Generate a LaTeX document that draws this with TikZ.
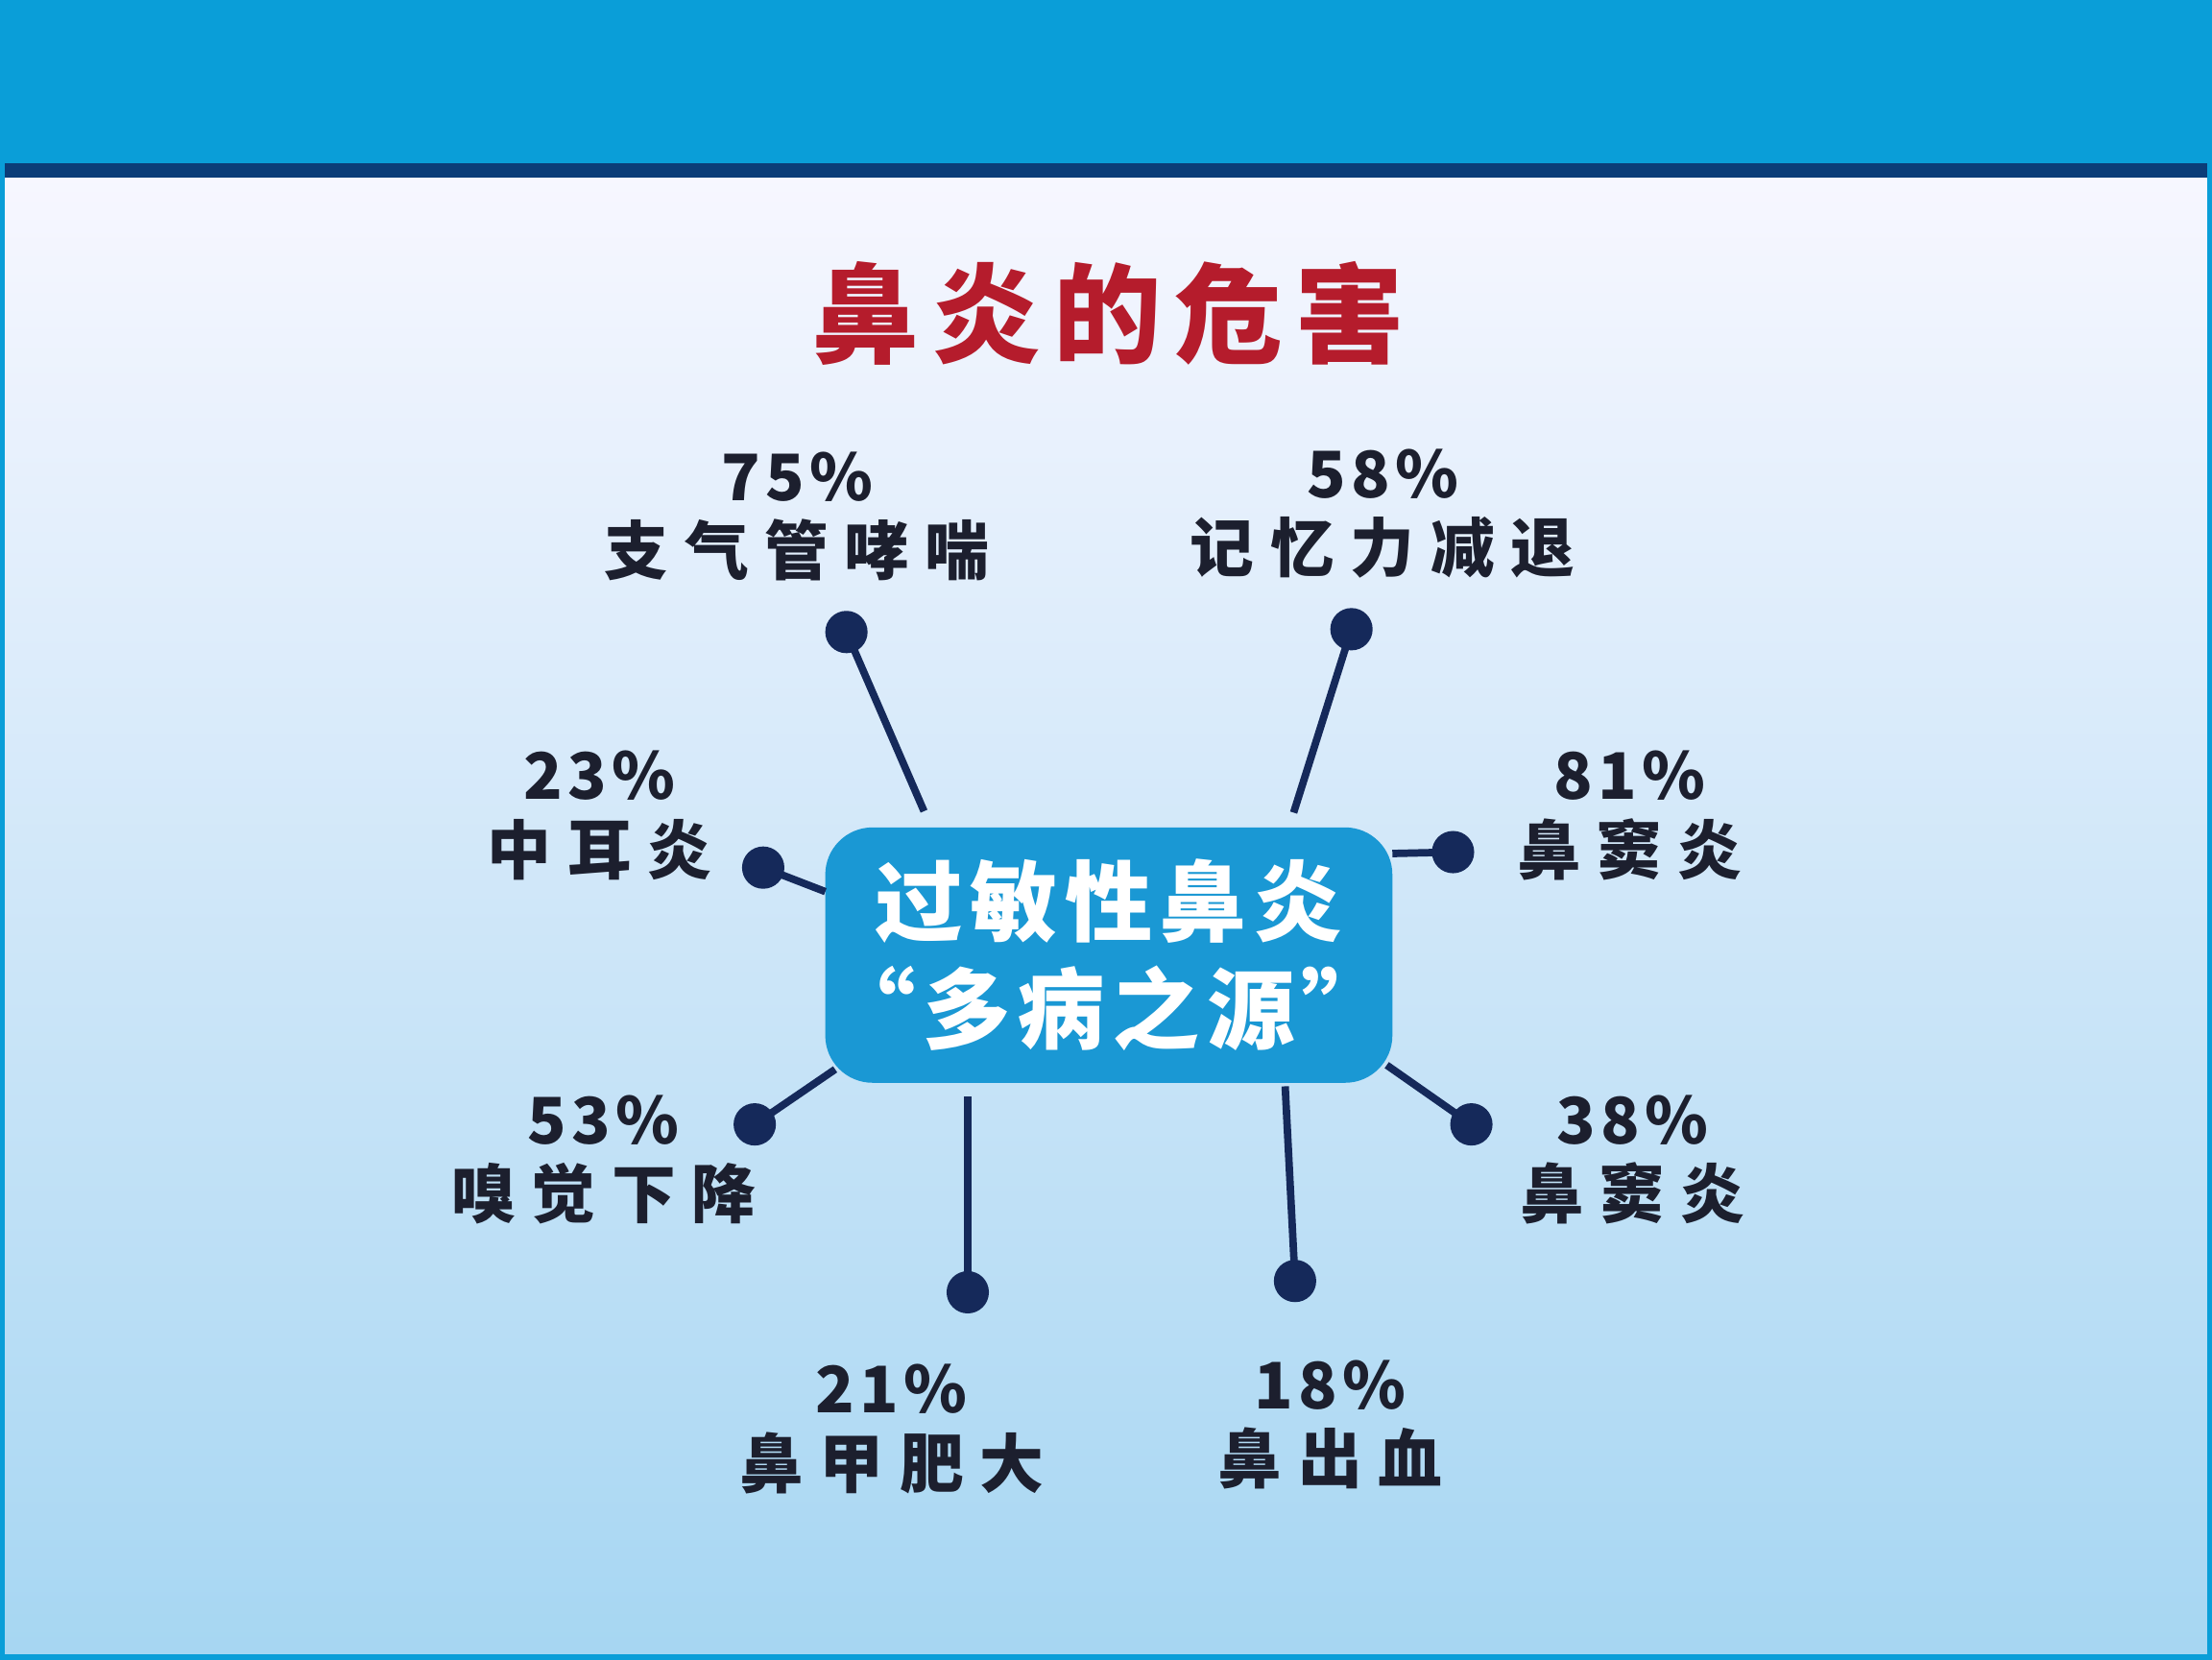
\documentclass[tikz,border=0pt]{standalone}
\usepackage{fontspec}
\setmainfont{Noto Sans CJK SC}
\newfontfamily\cjk{Noto Sans CJK SC}
\newfontfamily\cjkl{Noto Sans CJK SC}[LetterSpace=25]
\newfontfamily\cjkn{Noto Sans CJK SC}[LetterSpace=8]
\newfontfamily\cjkt{Noto Sans CJK SC}[LetterSpace=12]
\newfontfamily\cjkb{Noto Sans CJK SC}[LetterSpace=8]
\newcommand\pct[1]{{\cjkn\bfseries\fontsize{19}{22}\selectfont #1}}
\begin{document}
\begin{tikzpicture}[x=0.014694cm,y=-0.014694cm,
  dot/.style={circle,fill=navy,inner sep=0pt,minimum size=30*0.014694cm},
  lnk/.style={draw=navy,line width=2.2pt},
  lab/.style={align=center,font=\cjkl\bfseries\fontsize{19}{22}\selectfont,text=ink,inner sep=0pt}]
\definecolor{navy}{HTML}{15295A}
\definecolor{ink}{HTML}{1C1F2E}
\definecolor{band}{HTML}{0A9ED8}
\definecolor{bandline}{HTML}{0B3D78}
\definecolor{boxc}{HTML}{1A98D4}
\definecolor{titlec}{HTML}{B51C2C}
\useasboundingbox (0,0) rectangle (1568,1176);
\shade[top color=white!92!blue!40, bottom color={rgb,255:red,166;green,214;blue,242}] (0,125) rectangle (1568,1176);
\fill[band] (0,0) rectangle (1568,118);
\fill[bandline] (0,116) rectangle (1568,126);
\draw[band,line width=3pt] (0,0) rectangle (1568,1176);
\node[font=\cjkt\bfseries\fontsize{32}{36}\selectfont,text=titlec] (title) at (785,222) {鼻炎的危害};
\node[fill=boxc,rounded corners=14pt,inner xsep=0pt,minimum width=402*0.014694cm,minimum height=181*0.014694cm,
  align=center,text=white,font=\cjkb\bfseries\fontsize{26}{32}\selectfont] (hub) at (786,677) {过敏性鼻炎\\“多病之源”};
% dots
\node[dot] (d1) at (600,448) {};
\node[dot] (d2) at (958,446) {};
\node[dot] (d3) at (541,615) {};
\node[dot] (d4) at (1030,604) {};
\node[dot] (d5) at (535,797) {};
\node[dot] (d6) at (1043,797) {};
\node[dot] (d7) at (686,916) {};
\node[dot] (d8) at (918,908) {};
\coordinate (e1) at (655,575);
\coordinate (e2) at (917,576);
\coordinate (e3) at (585,632);
\coordinate (e4) at (987,605);
\coordinate (e5) at (592,758);
\coordinate (e6) at (983,755);
\coordinate (e7) at (686,777);
\coordinate (e8) at (911,770);
\foreach \i in {1,...,8}{\draw[lnk] (d\i.center) -- (e\i);}
\node[lab] (l1) at (565,366) {\pct{75\%}\\支气管哮喘};
\node[lab] (l2) at (980,364) {\pct{58\%}\\记忆力减退};
\node[lab] (l3) at (425,578) {\pct{23\%}\\中耳炎};
\node[lab] (l4) at (1155,578) {\pct{81\%}\\鼻窦炎};
\node[lab] (l5) at (428,822) {\pct{53\%}\\嗅觉下降};
\node[lab] (l6) at (1157,822) {\pct{38\%}\\鼻窦炎};
\node[lab] (l7) at (632,1013) {\pct{21\%}\\鼻甲肥大};
\node[lab] (l8) at (943,1010) {\pct{18\%}\\鼻出血};
\end{tikzpicture}
\end{document}
